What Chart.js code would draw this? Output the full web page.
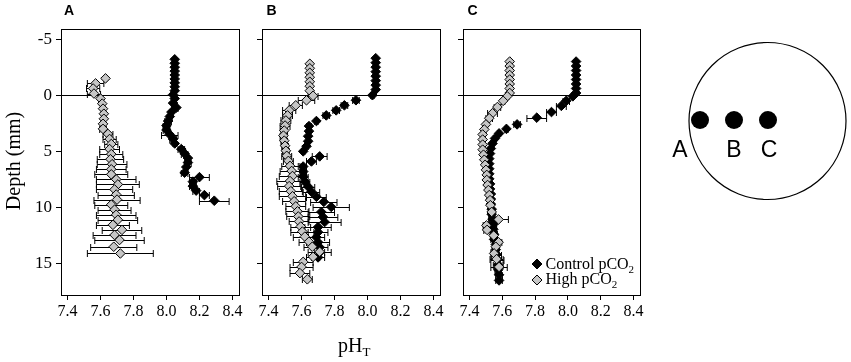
<!DOCTYPE html>
<html>
<head>
<meta charset="utf-8">
<script src="https://cdn.jsdelivr.net/npm/chart.js@4.4.1/dist/chart.umd.min.js"></script>
<style>
  body { margin: 0; background: #fff; }
  #wrap { position: relative; width: 851px; height: 362px; overflow: hidden; }
  #wrap canvas { position: absolute; top: 0; }
  #labels { position: absolute; left: 0; top: 0; pointer-events: none; }
</style>
</head>
<body>
<div id="wrap">
  <canvas id="panelA" width="250" height="330" style="left:0px"></canvas>
  <canvas id="panelB" width="200" height="330" style="left:250px"></canvas>
  <canvas id="panelC" width="200" height="330" style="left:450px"></canvas>
  <svg id="labels" width="851" height="362">
    <g font-family="Liberation Sans, Arial, sans-serif" font-weight="bold" font-size="14">
      <text x="64" y="14.5">A</text>
      <text x="266.5" y="14.5">B</text>
      <text x="467.5" y="14.5">C</text>
    </g>
    <text font-family="Liberation Serif, serif" font-size="20" text-anchor="middle"
          transform="translate(20,161) rotate(-90)">Depth (mm)</text>
    <text font-family="Liberation Serif, serif" font-size="20" x="338" y="352">pH<tspan font-size="13" dy="4">T</tspan></text>
    <circle cx="767.5" cy="121" r="78.5" fill="none" stroke="#000" stroke-width="1.2"/>
    <circle cx="700" cy="120" r="9" fill="#000"/>
    <circle cx="734" cy="120" r="9" fill="#000"/>
    <circle cx="768" cy="120" r="9" fill="#000"/>
    <g font-family="Liberation Sans, Arial, sans-serif" font-size="23" text-anchor="middle">
      <text x="680" y="156.5">A</text>
      <text x="734" y="156.5">B</text>
      <text x="769" y="156.5">C</text>
    </g>
  </svg>
</div>
<script>
// axis ticks
const xTicks = [7.4, 7.6, 7.8, 8.0, 8.2, 8.4]
const yTicks = [-5, 0, 5, 10, 15]

// panel A - control pCO2
const depthA_control = [-3.2, -2.85, -2.5, -2.15, -1.8, -1.45, -1.1, -0.75, -0.4, -0.05,
  0.3, 0.7, 1.1, 1.5, 1.9, 2.3, 2.7, 3.1, 3.5, 3.9, 4.3, 4.8, 5.2, 5.6, 6.0, 6.4,
  6.9, 7.3, 7.7, 8.1, 8.5, 8.9, 9.4]
const phA_control = [8.05, 8.05, 8.05, 8.05, 8.05, 8.05, 8.05, 8.05, 8.05, 8.04,
  8.05, 8.04, 8.06, 8.03, 8.02, 8.01, 8.00, 8.00, 8.02, 8.04, 8.05, 8.09, 8.11, 8.13, 8.13, 8.12,
  8.11, 8.20, 8.16, 8.16, 8.18, 8.23, 8.29]
const errA_control = [0.005, 0.005, 0.005, 0.005, 0.005, 0.005, 0.005, 0.005, 0.005, 0.005,
  0.01, 0.01, 0.01, 0.01, 0.015, 0.02, 0.02, 0.02, 0.05, 0.02, 0.01, 0.02, 0.02, 0.01, 0.02, 0.01,
  0.02, 0.06, 0.02, 0.02, 0.02, 0.03, 0.09]

// panel A - high pCO2
const depthA_high = [-1.5, -1.05, -0.6, -0.15, 0.3, 0.75, 1.2, 1.65, 2.1, 2.55, 3.0, 3.45,
  3.9, 4.35, 4.8, 5.25, 5.7, 6.15, 6.6, 7.05, 7.5, 7.95, 8.4, 8.85, 9.3, 9.75, 10.2,
  10.65, 11.1, 11.55, 12.0, 12.45, 12.9, 13.5, 14.1]
const phA_high = [7.63, 7.57, 7.555, 7.56, 7.60, 7.61, 7.615, 7.62, 7.62, 7.615, 7.615, 7.645,
  7.655, 7.665, 7.655, 7.665, 7.66, 7.67, 7.665, 7.665, 7.695, 7.705, 7.685, 7.695, 7.70, 7.665, 7.685,
  7.695, 7.705, 7.675, 7.73, 7.685, 7.715, 7.68, 7.72]
const errA_high = [0.005, 0.05, 0.04, 0.04, 0.01, 0.01, 0.01, 0.01, 0.01, 0.015, 0.02, 0.03,
  0.04, 0.04, 0.06, 0.07, 0.08, 0.09, 0.09, 0.1, 0.12, 0.13, 0.11, 0.11, 0.14, 0.1, 0.1,
  0.12, 0.12, 0.1, 0.12, 0.13, 0.15, 0.14, 0.2]

// panel B - control pCO2
const depthB_control = [-3.3, -2.9, -2.5, -2.1, -1.7, -1.3, -0.9, -0.5,
  0.0, 0.45, 0.9, 1.35, 1.8, 2.3, 2.75, 3.2, 3.65, 4.1, 4.55, 5.0, 5.45, 5.9, 6.35,
  6.8, 7.25, 7.7, 8.15, 8.6, 9.05, 9.5, 9.95, 10.4, 10.85, 11.3, 11.75, 12.2, 12.65,
  13.1, 13.55, 14.0, 14.45]
const phB_control = [8.05, 8.05, 8.05, 8.05, 8.05, 8.05, 8.05, 8.05,
  8.03, 7.93, 7.86, 7.81, 7.75, 7.69, 7.645, 7.645, 7.64, 7.64, 7.63, 7.61, 7.71, 7.66, 7.61,
  7.61, 7.61, 7.62, 7.64, 7.66, 7.69, 7.735, 7.78, 7.72, 7.73, 7.74, 7.70, 7.70, 7.69,
  7.70, 7.71, 7.71, 7.70]
const errB_control = [0.005, 0.005, 0.005, 0.005, 0.005, 0.005, 0.005, 0.005,
  0.01, 0.02, 0.02, 0.02, 0.02, 0.01, 0.015, 0.01, 0.01, 0.01, 0.01, 0.01, 0.045, 0.03, 0.02,
  0.02, 0.03, 0.03, 0.04, 0.05, 0.06, 0.08, 0.11, 0.08, 0.09, 0.1, 0.08, 0.06, 0.05,
  0.07, 0.05, 0.07, 0.04]

// panel B - high pCO2
const depthB_high = [-2.8, -2.4, -2.0, -1.6, -1.2, -0.8, -0.4,
  0.05, 0.45, 0.9, 1.35, 1.8, 2.25, 2.7, 3.15, 3.6, 4.05, 4.5, 4.95, 5.4, 5.85, 6.3,
  6.75, 7.2, 7.65, 8.1, 8.55, 9.0, 9.45, 9.9, 10.35, 10.8, 11.25, 11.7, 12.15, 12.6,
  13.05, 13.5, 13.95, 14.4, 14.85, 15.3, 15.85, 16.4]
const phB_high = [7.65, 7.65, 7.65, 7.65, 7.65, 7.65, 7.65,
  7.67, 7.63, 7.565, 7.525, 7.515, 7.505, 7.50, 7.495, 7.49, 7.495, 7.50, 7.505, 7.51, 7.52, 7.53,
  7.54, 7.545, 7.53, 7.525, 7.535, 7.545, 7.555, 7.565, 7.575, 7.58, 7.585, 7.595, 7.605, 7.62,
  7.645, 7.665, 7.71, 7.67, 7.61, 7.60, 7.59, 7.635]
const errB_high = [0.005, 0.005, 0.005, 0.005, 0.005, 0.005, 0.005,
  0.03, 0.05, 0.04, 0.04, 0.03, 0.03, 0.03, 0.02, 0.02, 0.02, 0.02, 0.02, 0.03, 0.03, 0.05,
  0.07, 0.08, 0.08, 0.07, 0.07, 0.08, 0.07, 0.06, 0.07, 0.07, 0.06, 0.06, 0.07, 0.07,
  0.06, 0.05, 0.03, 0.04, 0.06, 0.07, 0.06, 0.03]

// panel C - control pCO2
const depthC_control = [-3.0, -2.6, -2.2, -1.8, -1.4, -1.0, -0.6, -0.2,
  0.1, 0.5, 0.95, 1.5, 2.0, 2.6, 3.0, 3.4, 3.85, 4.3, 4.75, 5.2, 5.65, 6.1, 6.55,
  7.0, 7.45, 7.9, 8.35, 8.8, 9.25, 9.7, 10.15, 10.6, 11.05, 11.5, 11.95, 12.4, 12.85,
  13.3, 13.75, 14.2, 14.65, 15.1, 15.55, 16.0, 16.5]
const phC_control = [8.05, 8.05, 8.05, 8.05, 8.05, 8.05, 8.05, 8.05,
  8.03, 7.99, 7.96, 7.90, 7.81, 7.69, 7.625, 7.58, 7.555, 7.54, 7.53, 7.525, 7.52, 7.52, 7.52,
  7.52, 7.52, 7.525, 7.525, 7.53, 7.53, 7.53, 7.535, 7.535, 7.54, 7.545, 7.545, 7.55, 7.55,
  7.56, 7.56, 7.565, 7.57, 7.575, 7.575, 7.58, 7.58]
const errC_control = [0.005, 0.005, 0.005, 0.005, 0.005, 0.005, 0.005, 0.005,
  0.01, 0.02, 0.03, 0.03, 0.06, 0.02, 0.01, 0.01, 0.01, 0.01, 0.01, 0.01, 0.01, 0.01, 0.01,
  0.01, 0.01, 0.01, 0.01, 0.01, 0.01, 0.01, 0.01, 0.01, 0.02, 0.02, 0.02, 0.02, 0.02,
  0.02, 0.02, 0.03, 0.04, 0.03, 0.02, 0.02, 0.02]

// panel C - high pCO2
const depthC_high = [-3.0, -2.6, -2.2, -1.8, -1.4, -1.0, -0.6, -0.2,
  0.1, 0.5, 1.05, 1.6, 2.05, 2.6, 3.05, 3.5, 3.95, 4.4, 4.85, 5.3, 5.75, 6.2, 6.65,
  7.1, 7.55, 8.0, 8.45, 8.9, 9.35, 9.8, 10.4, 11.07, 11.6, 12.0, 12.5, 13.1, 13.5,
  14.1, 14.6, 15.3]
const phC_high = [7.645, 7.645, 7.645, 7.645, 7.645, 7.645, 7.645, 7.645,
  7.63, 7.605, 7.57, 7.54, 7.52, 7.50, 7.49, 7.48, 7.48, 7.48, 7.48, 7.485, 7.49, 7.495, 7.50,
  7.505, 7.505, 7.51, 7.515, 7.52, 7.525, 7.527, 7.535, 7.577, 7.503, 7.507, 7.547, 7.577, 7.56,
  7.55, 7.565, 7.58]
const errC_high = [0.005, 0.005, 0.005, 0.005, 0.005, 0.005, 0.005, 0.005,
  0.01, 0.01, 0.02, 0.03, 0.02, 0.01, 0.01, 0.01, 0.01, 0.01, 0.01, 0.01, 0.01, 0.01, 0.01,
  0.01, 0.01, 0.01, 0.01, 0.01, 0.01, 0.01, 0.02, 0.06, 0.02, 0.02, 0.02, 0.02, 0.02,
  0.02, 0.04, 0.05]

const serif = "'Liberation Serif', 'Times New Roman', serif"
const controlColor = '#000000'
const highColor = '#c6c6c6'

function makeSet(label, depths, phs, errs, fill, order) {
  return {
    label: label,
    data: depths.map((d, i) => ({ x: phs[i], y: d })),
    errors: errs,
    pointStyle: 'rectRot',
    pointRadius: 4.8,
    pointBorderWidth: 1,
    pointBackgroundColor: fill,
    pointBorderColor: '#000',
    showLine: false,
    order: order
  }
}

function drawDiamond(ctx, x, y, r, fill) {
  ctx.beginPath()
  ctx.moveTo(x, y - r)
  ctx.lineTo(x + r, y)
  ctx.lineTo(x, y + r)
  ctx.lineTo(x - r, y)
  ctx.closePath()
  ctx.fillStyle = fill
  ctx.fill()
  ctx.strokeStyle = '#000'
  ctx.lineWidth = 1
  ctx.stroke()
}

function legendText(ctx, x, y, text) {
  ctx.fillStyle = '#000'
  ctx.textBaseline = 'alphabetic'
  ctx.textAlign = 'left'
  ctx.font = '16px ' + serif
  ctx.fillText(text, x, y)
  let w = ctx.measureText(text).width
  ctx.font = '11px ' + serif
  ctx.fillText('2', x + w, y + 4)
}

// frame, zero line, error bars and legend
const panelPlugin = {
  id: 'panel',
  beforeDatasetsDraw(chart) {
    const { ctx, chartArea: a, scales } = chart
    ctx.save()
    ctx.strokeStyle = '#000'
    ctx.lineWidth = 1
    let y0 = Math.round(scales.y.getPixelForValue(0)) + 0.5
    ctx.beginPath()
    ctx.moveTo(a.left, y0)
    ctx.lineTo(a.right, y0)
    ctx.stroke()

    chart.data.datasets.forEach(ds => {
      ds.data.forEach((p, i) => {
        let e = ds.errors[i]
        let py = Math.round(scales.y.getPixelForValue(p.y)) + 0.5
        let x1 = scales.x.getPixelForValue(p.x - e)
        let x2 = scales.x.getPixelForValue(p.x + e)
        ctx.beginPath()
        ctx.moveTo(x1, py)
        ctx.lineTo(x2, py)
        ctx.moveTo(x1, py - 3.5)
        ctx.lineTo(x1, py + 3.5)
        ctx.moveTo(x2, py - 3.5)
        ctx.lineTo(x2, py + 3.5)
        ctx.stroke()
      })
    })
    ctx.restore()
  },
  afterDraw(chart, args, opts) {
    const { ctx, chartArea: a } = chart
    ctx.save()
    ctx.strokeStyle = '#000'
    ctx.lineWidth = 1
    ctx.strokeRect(Math.round(a.left) + 0.5, Math.round(a.top) + 0.5,
      Math.round(a.right - a.left), Math.round(a.bottom - a.top))
    if (opts.legend) {
      let lx = a.right - 103
      drawDiamond(ctx, lx, a.bottom - 31, 5, controlColor)
      drawDiamond(ctx, lx, a.bottom - 15, 5, highColor)
      legendText(ctx, lx + 8.5, a.bottom - 26.5, 'Control pCO')
      legendText(ctx, lx + 8.5, a.bottom - 11, 'High pCO')
    }
    ctx.restore()
  }
}

function makePanel(id, control, high, yWidth, padRight, showYLabels, legend) {
  const ctx = document.getElementById(id).getContext('2d')
  return new Chart(ctx, {
    type: 'scatter',
    data: {
      datasets: [
        makeSet('Control pCO2', control[0], control[1], control[2], controlColor, 1),
        makeSet('High pCO2', high[0], high[1], high[2], highColor, 0)
      ]
    },
    options: {
      responsive: false,
      animation: false,
      layout: { padding: { top: 29, right: padRight, left: 0, bottom: 0 } },
      scales: {
        x: {
          type: 'linear',
          min: 7.36,
          max: 8.44,
          afterBuildTicks: s => { s.ticks = xTicks.map(v => ({ value: v })) },
          afterFit: s => { s.height = 35 },
          grid: { drawOnChartArea: false, drawTicks: true, tickLength: 5, color: '#000' },
          border: { display: false },
          ticks: {
            padding: 2,
            color: '#000',
            font: { family: serif, size: 16 },
            callback: v => v.toFixed(1)
          }
        },
        y: {
          type: 'linear',
          reverse: true,
          min: -5.9,
          max: 17.8,
          afterBuildTicks: s => { s.ticks = yTicks.map(v => ({ value: v })) },
          afterFit: s => { s.width = yWidth },
          grid: { drawOnChartArea: false, drawTicks: true, tickLength: 5, color: '#000' },
          border: { display: false },
          ticks: {
            padding: 4,
            color: '#000',
            font: { family: serif, size: 17 },
            callback: v => showYLabels ? String(v) : ''
          }
        }
      },
      plugins: {
        legend: { display: false },
        tooltip: { enabled: false },
        panel: { legend: legend }
      }
    },
    plugins: [panelPlugin]
  })
}

makePanel('panelA', [depthA_control, phA_control, errA_control],
  [depthA_high, phA_high, errA_high], 61, 11, true, false)
makePanel('panelB', [depthB_control, phB_control, errB_control],
  [depthB_high, phB_high, errB_high], 12, 10, false, false)
makePanel('panelC', [depthC_control, phC_control, errC_control],
  [depthC_high, phC_high, errC_high], 13, 10, false, true)
</script>
</body>
</html>
